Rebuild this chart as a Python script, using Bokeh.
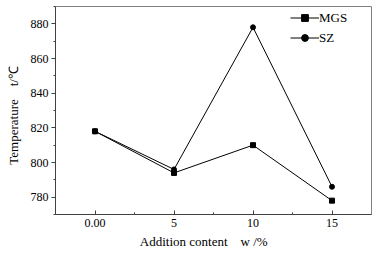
from bokeh.plotting import figure
from bokeh.models import Range1d, FixedTicker, Legend, LegendItem
from bokeh.embed import file_html
from bokeh.resources import INLINE

categories = ["0.00", "5", "10", "15"]
mgs = [818, 794, 810, 778]
sz = [818, 796, 878, 786]
y_ticks = [780, 800, 820, 840, 860, 880]
y_minor = [770, 790, 810, 830, 850, 870, 890]
x_title = "Addition content\u00a0\u00a0\u00a0\u00a0w /%"
y_title = "Temperature\u00a0\u00a0\u00a0\u00a0t/℃"

xs = list(range(len(categories)))
FONT = "Liberation Serif"
NB = "\u00a0"

p = figure(width=382, height=254, output_backend="svg", toolbar_location=None,
           x_range=Range1d(-0.5, len(categories) - 0.5), y_range=Range1d(770, 890),
           min_border_left=55, min_border_right=11, min_border_top=6, min_border_bottom=40)
p.grid.visible = False
p.outline_line_color = "#808080"
p.outline_line_width = 1
p.background_fill_color = "white"
p.border_fill_color = "white"

xa = p.xaxis[0]
xa.ticker = FixedTicker(ticks=xs, minor_ticks=[0.5, 1.5, 2.5])
xa.major_label_overrides = {i: c for i, c in enumerate(categories)}
xa.major_tick_in = 4
xa.major_tick_out = 0
xa.minor_tick_in = 2
xa.minor_tick_out = 0
xa.major_label_standoff = 4
xa.axis_label = x_title + NB * 6
xa.axis_label_standoff = 4

ya = p.yaxis[0]
ya.ticker = FixedTicker(ticks=y_ticks, minor_ticks=y_minor)
ya.major_tick_in = 0
ya.major_tick_out = 4
ya.minor_tick_in = 0
ya.minor_tick_out = 2
ya.major_label_standoff = 3
ya.axis_label = y_title + NB * 3
ya.axis_label_standoff = 7

for ax in (xa, ya):
    ax.major_label_text_font = FONT
    ax.major_label_text_font_size = "12px"
    ax.major_label_text_color = "black"
    ax.axis_label_text_font = FONT
    ax.axis_label_text_font_size = "13px"
    ax.axis_label_text_font_style = "normal"
    ax.axis_label_text_color = "black"
    ax.axis_line_color = "#404040"
    ax.major_tick_line_color = "#404040"
    ax.minor_tick_line_color = "#404040"

l1 = p.line(xs, mgs, line_color="black", line_width=1)
m1 = p.scatter(xs, mgs, marker="square", size=5, color="black")
l2 = p.line(xs, sz, line_color="black", line_width=1)
m2 = p.scatter(xs, sz, marker="circle", size=5, color="black")

legend = Legend(items=[LegendItem(label="MGS", renderers=[l1, m1]),
                       LegendItem(label="SZ", renderers=[l2, m2])],
                location=(235, 168))
legend.glyph_width = 29
legend.glyph_height = 17
legend.label_height = 17
legend.label_standoff = 0
legend.spacing = 3
legend.padding = 0
legend.margin = 0
legend.border_line_color = None
legend.background_fill_alpha = 0
legend.label_text_font = FONT
legend.label_text_font_size = "13px"
legend.label_text_color = "black"
p.add_layout(legend)

open("out.html", "w").write(file_html(p, INLINE))
